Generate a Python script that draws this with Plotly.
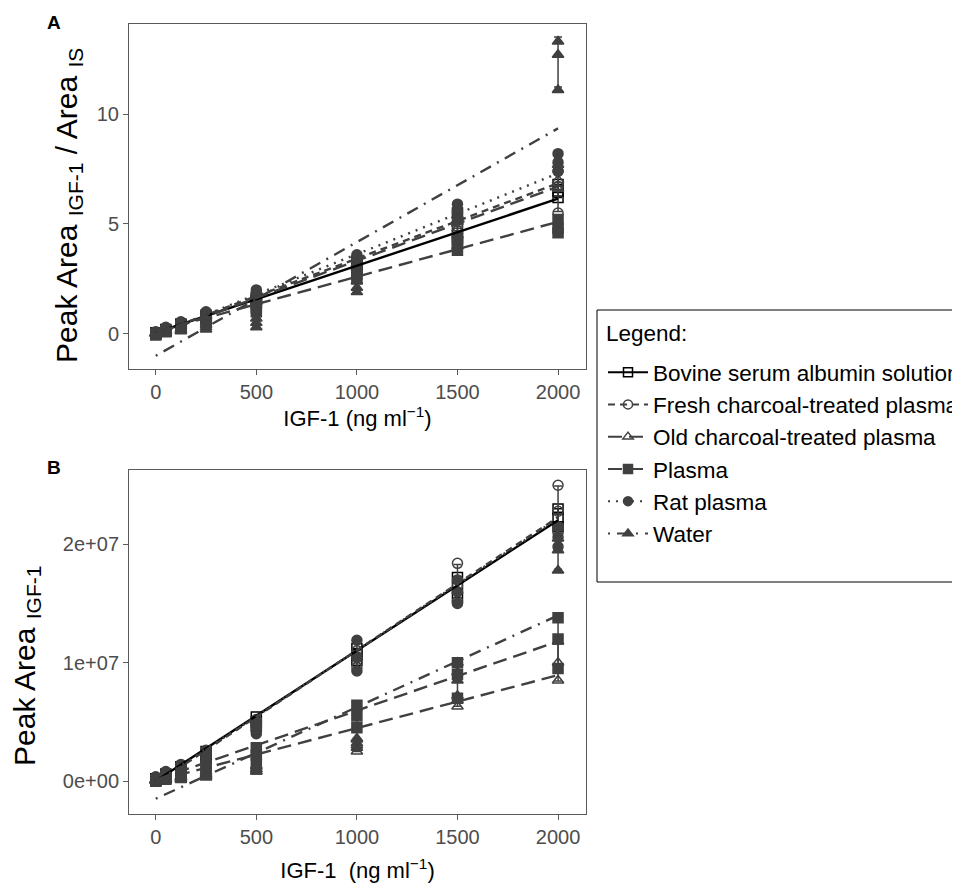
import numpy as np
import plotly.graph_objects as go

# ---------------- data ----------------
conc = [0, 50, 125, 250, 500, 1000, 1500, 2000]
series_names = [
    "Bovine serum albumin solution",
    "Fresh charcoal-treated plasma",
    "Old charcoal-treated plasma",
    "Plasma",
    "Rat plasma",
    "Water",
]

# Panel A: peak area ratio IGF-1 / IS, three replicates per concentration
ratio_bsa = [[0.0, 0.02, 0.05], [0.12, 0.15, 0.2], [0.35, 0.4, 0.45], [0.7, 0.78, 0.85],
             [1.45, 1.55, 1.65], [2.9, 3.1, 3.3], [4.3, 4.8, 5.5], [6.2, 6.5, 6.8]]
ratio_fresh = [[0.0, 0.03, 0.05], [0.15, 0.18, 0.2], [0.38, 0.42, 0.48], [0.75, 0.82, 0.9],
               [1.5, 1.62, 1.7], [3.1, 3.3, 3.45], [4.9, 5.2, 5.5], [5.5, 6.7, 7.4]]
ratio_old = [[0.0, 0.02, 0.04], [0.13, 0.16, 0.18], [0.35, 0.4, 0.44], [0.72, 0.8, 0.86],
             [1.45, 1.55, 1.65], [3.0, 3.2, 3.35], [4.8, 5.1, 5.4], [6.6, 7.0, 7.7]]
ratio_plasma = [[-0.05, 0.0, 0.03], [0.1, 0.12, 0.15], [0.25, 0.3, 0.35], [0.55, 0.62, 0.7],
                [1.0, 1.2, 1.35], [2.5, 2.7, 2.9], [3.8, 4.1, 4.4], [4.6, 4.8, 5.2]]
ratio_rat = [[0.0, 0.05, 0.1], [0.2, 0.25, 0.3], [0.45, 0.5, 0.55], [0.85, 0.92, 1.0],
             [1.7, 1.85, 2.0], [3.3, 3.45, 3.6], [5.3, 5.6, 5.9], [7.4, 7.8, 8.2]]
ratio_water = [[0.0, 0.02, 0.05], [0.05, 0.08, 0.1], [0.12, 0.15, 0.2], [0.2, 0.3, 0.4],
               [0.3, 0.5, 0.7], [1.9, 2.1, 2.4], [4.0, 4.5, 5.2], [11.1, 12.7, 13.3]]

# Panel B: IGF-1 peak area (millions), three replicates per concentration
area_bsa = [[0.0, 0.1, 0.2], [0.3, 0.45, 0.6], [0.8, 1.0, 1.2], [1.9, 2.2, 2.5],
            [4.6, 5.0, 5.4], [10.2, 10.7, 11.2], [15.5, 16.3, 17.2], [21.5, 22.3, 23.0]]
area_fresh = [[0.0, 0.15, 0.3], [0.4, 0.55, 0.7], [0.9, 1.1, 1.3], [2.0, 2.3, 2.6],
              [4.3, 4.8, 5.2], [9.6, 10.4, 11.0], [15.2, 16.5, 18.4], [21.0, 22.8, 25.0]]
area_old = [[0.0, 0.05, 0.1], [0.1, 0.15, 0.2], [0.2, 0.3, 0.4], [0.4, 0.6, 0.8],
            [0.8, 1.0, 1.3], [2.5, 3.0, 3.5], [6.3, 6.8, 7.2], [8.5, 10.0, 11.8]]
area_plasma = [[0.0, 0.05, 0.1], [0.15, 0.2, 0.3], [0.3, 0.45, 0.6], [0.7, 1.0, 1.3],
               [1.5, 2.2, 2.8], [4.5, 5.5, 6.4], [7.0, 9.0, 10.0], [9.5, 12.0, 13.8]]
area_rat = [[0.0, 0.2, 0.35], [0.5, 0.65, 0.8], [1.0, 1.2, 1.4], [1.9, 2.2, 2.5],
            [4.0, 4.5, 5.0], [9.3, 10.5, 11.9], [15.0, 16.0, 17.0], [19.8, 20.6, 21.5]]
area_water = [[0.0, 0.05, 0.1], [0.05, 0.1, 0.15], [0.1, 0.2, 0.3], [0.3, 0.45, 0.6],
              [0.8, 1.0, 1.2], [2.8, 3.2, 3.6], [8.5, 9.2, 10.0], [17.8, 19.5, 20.5]]

# Linear fit lines read at x = 0 and x = 2000
fit_x = [0, 2000]
fit_ratio = [[0.05, 6.15], [0.0, 6.85], [-0.05, 6.7], [0.1, 5.1], [-0.05, 7.3], [-1.0, 9.35]]
fit_area = [[0.0, 22.05], [-0.2, 22.3], [0.0, 8.95], [0.1, 11.8], [-0.1, 22.2], [-1.5, 14.0]]

x_ticks = [0, 500, 1000, 1500, 2000]
yA_ticks = [0, 5, 10]
yB_ticks = [0, 1e7, 2e7]
yB_ticktext = ["0e+00", "1e+07", "2e+07"]

# ---------------- styles ----------------
symbols = ["square-open", "circle-open", "triangle-up-open", "square", "circle", "triangle-up"]
dashes = ["solid", "7px,5px", "14px,7px", "14px,7px", "2px,6px", "2px,7px,12px,7px"]
colors = ["#000000", "#404040", "#404040", "#404040", "#404040", "#404040"]
FONT = "Liberation Sans, Arial, sans-serif"

ratio_data = [ratio_bsa, ratio_fresh, ratio_old, ratio_plasma, ratio_rat, ratio_water]
area_data = [area_bsa, area_fresh, area_old, area_plasma, area_rat, area_water]

fig = go.Figure()


def add_panel(data_list, fits, xa, ya, scale):
    for i, reps in enumerate(data_list):
        reps = np.array(reps, dtype=float) * scale
        xs = np.repeat(conc, reps.shape[1])
        fig.add_trace(go.Scatter(
            x=xs, y=reps.flatten(), mode="markers", xaxis=xa, yaxis=ya,
            showlegend=False, hoverinfo="skip",
            marker=dict(symbol=symbols[i], size=10, color=colors[i],
                        line=dict(color=colors[i], width=1.5)),
        ))
        fig.add_trace(go.Scatter(
            x=conc, y=reps.mean(axis=1), mode="markers", xaxis=xa, yaxis=ya,
            showlegend=False, hoverinfo="skip",
            marker=dict(size=1, opacity=0),
            error_y=dict(type="data", array=reps.std(axis=1, ddof=1), visible=True,
                         color=colors[i], thickness=1.5, width=4),
        ))
    for i, f in enumerate(fits):
        fig.add_trace(go.Scatter(
            x=fit_x, y=np.array(f) * scale, mode="lines", xaxis=xa, yaxis=ya,
            showlegend=False, hoverinfo="skip",
            line=dict(color=colors[i], width=2.4, dash=dashes[i]),
        ))


add_panel(ratio_data, fit_ratio, "x", "y", 1.0)
add_panel(area_data, fit_area, "x2", "y2", 1e6)

# legend entries
for i, name in enumerate(series_names):
    fig.add_trace(go.Scatter(
        x=[None], y=[None], mode="lines+markers", name=name,
        line=dict(color=colors[i], width=2, dash=dashes[i]),
        marker=dict(symbol=symbols[i], size=9, color=colors[i],
                    line=dict(color=colors[i], width=1.5)),
    ))

OFF = 8  # page body margin
W, H = 960 - OFF, 883 - OFF


def px_x(p):
    return (p - OFF) / W


def px_y(p):
    return 1 - (p - OFF) / H


axis_common = dict(
    showline=True, mirror=True, linecolor="#5a5a5a", linewidth=1,
    ticks="outside", ticklen=5, tickcolor="#5a5a5a", tickwidth=1,
    showgrid=False, zeroline=False,
    tickfont=dict(family=FONT, size=20, color="#4D4D4D"),
)
xdom = [px_x(129), px_x(586)]
xtitle_font = dict(family=FONT, size=22, color="#000000")
ytitle_font = dict(family=FONT, size=30, color="#000000")
LEG_FONT = 22.5

box_line = dict(color="#000000", width=1)
legend_box = [
    dict(type="line", xref="paper", yref="paper", x0=px_x(597), x1=px_x(597),
         y0=px_y(582), y1=px_y(310), line=box_line),
    dict(type="line", xref="paper", yref="paper", x0=px_x(597), x1=px_x(1000),
         y0=px_y(310), y1=px_y(310), line=box_line),
    dict(type="line", xref="paper", yref="paper", x0=px_x(597), x1=px_x(1000),
         y0=px_y(582), y1=px_y(582), line=box_line),
]

fig.update_layout(
    width=W, height=H,
    margin=dict(l=0, r=0, t=0, b=0, autoexpand=False),
    plot_bgcolor="white", paper_bgcolor="white",
    font=dict(family=FONT),
    xaxis=dict(axis_common, domain=xdom, range=[-133, 2139], tickvals=x_ticks,
               anchor="y",
               title=dict(text="IGF-1 (ng ml<sup>\u22121</sup>)", font=xtitle_font, standoff=8)),
    yaxis=dict(axis_common, domain=[px_y(369), px_y(24)], range=[-1.6, 14.1],
               tickvals=yA_ticks, anchor="x"),
    xaxis2=dict(axis_common, domain=xdom, range=[-133, 2139], tickvals=x_ticks,
                anchor="y2",
                title=dict(text="IGF-1 \u00a0(ng ml<sup>\u22121</sup>)", font=xtitle_font, standoff=18)),
    yaxis2=dict(axis_common, domain=[px_y(814), px_y(470)],
                range=[-2.79e6, 2.629e7], tickvals=yB_ticks, ticktext=yB_ticktext,
                anchor="x2"),
    legend=dict(
        x=px_x(603), y=px_y(351), xanchor="left", yanchor="top",
        borderwidth=0, bgcolor="rgba(0,0,0,0)",
        font=dict(family=FONT, size=LEG_FONT, color="#000000"),
        itemwidth=40, tracegroupgap=0,
    ),
    shapes=legend_box,
    annotations=[
        dict(text="<b>A</b>", x=px_x(45), y=px_y(23), xref="paper", yref="paper",
             xanchor="left", yanchor="middle", showarrow=False,
             font=dict(family=FONT, size=19, color="#000000")),
        dict(text="<b>B</b>", x=px_x(45), y=px_y(467), xref="paper", yref="paper",
             xanchor="left", yanchor="middle", showarrow=False,
             font=dict(family=FONT, size=19, color="#000000")),
        dict(text="Peak Area <sub>IGF-1</sub> / Area <sub>IS</sub>", textangle=-90,
             x=px_x(68), y=px_y(206), xref="paper", yref="paper",
             xanchor="center", yanchor="middle", showarrow=False, font=ytitle_font),
        dict(text="Peak Area <sub>IGF-1</sub>", textangle=-90,
             x=px_x(26), y=px_y(666), xref="paper", yref="paper",
             xanchor="center", yanchor="middle", showarrow=False, font=ytitle_font),
        dict(text="Legend:", x=px_x(604), y=px_y(333), xref="paper", yref="paper",
             xanchor="left", yanchor="middle", showarrow=False,
             font=dict(family=FONT, size=LEG_FONT, color="#000000")),
    ],
)

fig.write_html("out.html")
